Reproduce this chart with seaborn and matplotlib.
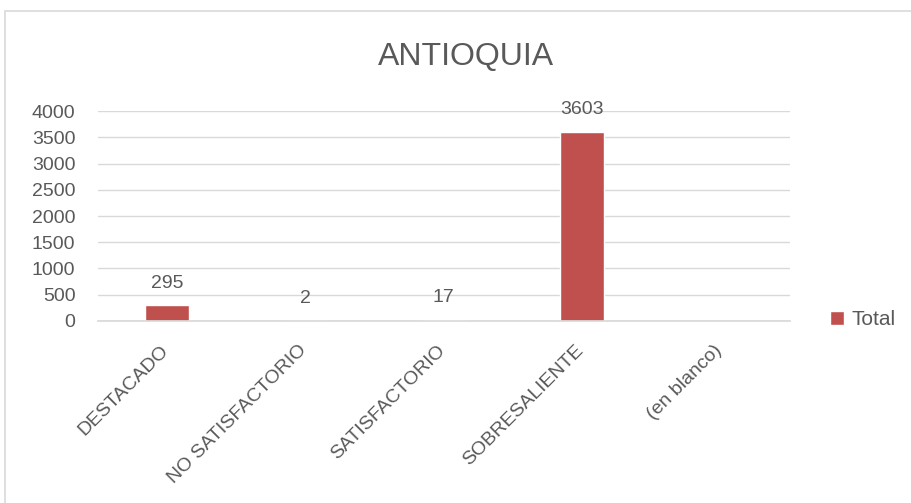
import numpy as np
import pandas as pd
import seaborn as sns
import matplotlib.pyplot as plt
from matplotlib.patches import Rectangle
from matplotlib.transforms import ScaledTranslation

sns.set_theme(style="white")
plt.rcParams['font.family'] = ['Liberation Sans', 'DejaVu Sans']

categories = ['DESTACADO', 'NO SATISFACTORIO', 'SATISFACTORIO', 'SOBRESALIENTE', '(en blanco)']
totals = [295, 2, 17, 3603, np.nan]
yticks = [0, 500, 1000, 1500, 2000, 2500, 3000, 3500, 4000]

text_color = '#595959'
bar_color = '#C0504D'

df = pd.DataFrame({'categoria': categories, 'Total': totals})

fig = plt.figure(figsize=(9.12, 5.03), dpi=100)
ax = fig.add_axes([0.107, 0.362, 0.759, 0.417])

sns.barplot(data=df, x='categoria', y='Total', color=bar_color, width=0.32,
            saturation=1, ax=ax, label='Total')

ax.set_ylim(0, 4000)
ax.set_yticks(yticks)
ax.yaxis.grid(True, color='#D9D9D9', linewidth=1)
ax.set_axisbelow(True)
for s in ['top', 'right', 'left']:
    ax.spines[s].set_visible(False)
ax.spines['bottom'].set_color('#D9D9D9')
ax.set_xlabel('')
ax.set_ylabel('')
ax.tick_params(axis='both', length=0, colors=text_color, labelsize=14)
ax.tick_params(axis='y', pad=16)
ax.tick_params(axis='x', pad=15)
shift = ScaledTranslation(-7 / 100, 0, fig.dpi_scale_trans)
for lbl in ax.get_xticklabels():
    lbl.set_rotation(45)
    lbl.set_ha('right')
    lbl.set_rotation_mode('anchor')
    lbl.set_transform(lbl.get_transform() + shift)

for i, v in enumerate(totals):
    if not np.isnan(v):
        ax.annotate(f'{int(v)}', (i, v), xytext=(0, 10), textcoords='offset points',
                    ha='center', va='bottom', fontsize=14, color=text_color)

fig.text(0.511, 0.887, 'ANTIOQUIA', ha='center', va='center', fontsize=23, color=text_color)

leg = ax.legend(loc='center left', bbox_to_anchor=(0.889, 0.364), bbox_transform=fig.transFigure,
                frameon=False, fontsize=15, handlelength=0.7, handleheight=0.7, handletextpad=0.35)
for t in leg.get_texts():
    t.set_color(text_color)

fig.patches.append(Rectangle((5 / 912, -0.1), 1.2, 1.1 - 11 / 503, transform=fig.transFigure,
                             fill=False, edgecolor='#D9D9D9', linewidth=1.2))

fig.savefig('out.png', dpi=100)
